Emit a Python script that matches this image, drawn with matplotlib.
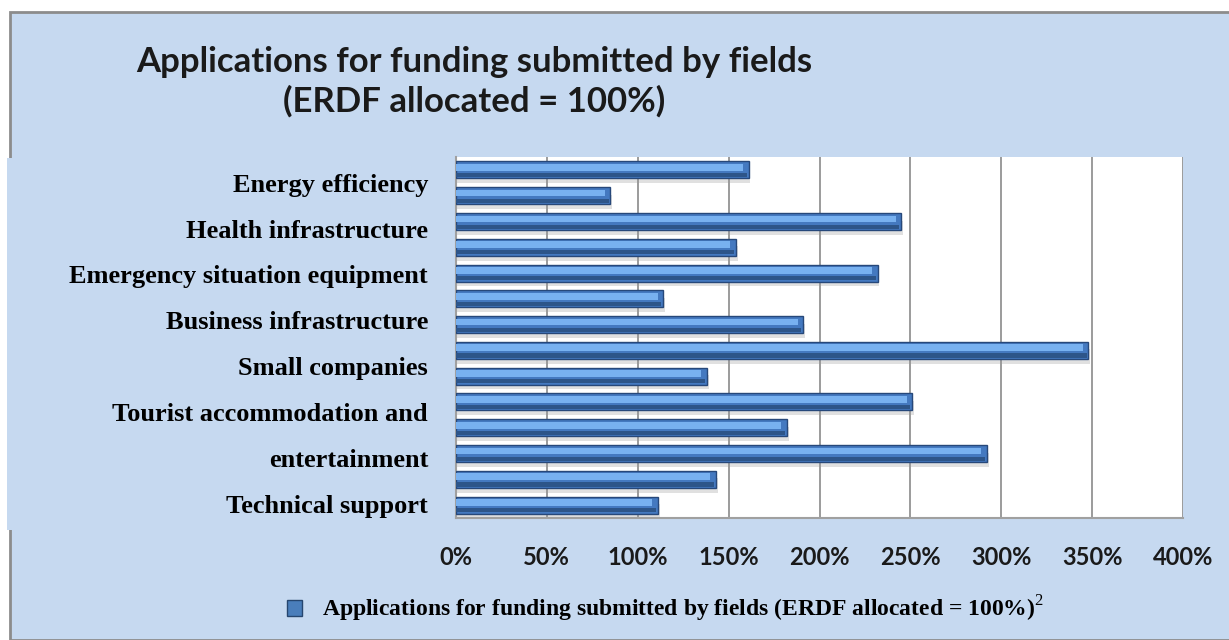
import matplotlib.pyplot as plt
import numpy as np
from matplotlib.patches import Rectangle
from matplotlib.ticker import FuncFormatter

# values, top bar first (percent of ERDF allocated)
values = [161, 85, 245, 154, 232, 114, 191, 348, 138, 251, 182, 292, 143, 111]
labels = ["Energy efficiency", "Health infrastructure", "Emergency situation equipment",
          "Business infrastructure", "Small companies", "Tourist accommodation and",
          "entertainment", "Technical support"]
ticks = [0, 50, 100, 150, 200, 250, 300, 350, 400]

title = "Applications for funding submitted by fields\n(ERDF allocated = 100%)"
series_name = r"Applications for funding submitted by fields (ERDF allocated = 100%)$^{\mathrm{2}}$"

plt.rcParams['mathtext.fontset'] = 'custom'
plt.rcParams['mathtext.bf'] = 'Liberation Serif:bold'
plt.rcParams['mathtext.rm'] = 'Liberation Serif'

bg = '#C6D9F0'
W, H = 1229, 640
fig = plt.figure(figsize=(W / 100, H / 100), dpi=100, facecolor='white')

# chart area background with grey frame
fig.patches.append(Rectangle((10 / W, 0), 1.2, 1 - 12 / H, transform=fig.transFigure,
                             facecolor=bg, edgecolor='#8c8c8c', linewidth=2, zorder=-2))
fig.patches.append(Rectangle((7 / W, 1 - 530 / H), 440 / W, 372 / H, transform=fig.transFigure,
                             facecolor=bg, edgecolor='none', zorder=-1))

ax = fig.add_axes([456 / W, 1 - 518 / H, 727 / W, 361 / H])
ax.set_facecolor('white')

y = np.arange(len(values))
v = np.array(values, dtype=float)
# shadow, body, highlight and dark lower band for the bevelled look
ax.barh(y + 0.24, v + 1, height=0.55, color='#9a9a9a', alpha=0.3, zorder=2)
ax.barh(y, v, height=0.66, color='#4479C0', edgecolor='#27487A', linewidth=1, zorder=3)
ax.barh(y - 0.1, v - 3, height=0.26, color='#78B1F0', zorder=4)
ax.barh(y + 0.2, v - 1, height=0.16, color='#2D5589', zorder=4)

ax.set_xlim(0, 400)
ax.set_ylim(len(values) - 0.5, -0.5)
ax.set_xticks(ticks)
ax.xaxis.set_major_formatter(FuncFormatter(lambda x, p: f"{x:.0f}%"))
ax.grid(axis='x', color='#8a8a8a', linewidth=1.2, zorder=0)
ax.set_axisbelow(True)
ax.set_yticks([])
ax.tick_params(axis='x', length=0, pad=20, labelsize=17)
for lab in ax.get_xticklabels():
    lab.set_fontfamily('Lato')
    lab.set_fontweight('bold')
    lab.set_color('#1a1a1a')
for s in ['top', 'right']:
    ax.spines[s].set_visible(False)
for s in ['left', 'bottom']:
    ax.spines[s].set_color('#a0a0a0')
    ax.spines[s].set_linewidth(1.5)

# category labels (overlaid, evenly spaced)
for lab, yy in zip(labels, np.linspace(0.922, 0.033, len(labels))):
    ax.text(-0.0385, yy, lab, transform=ax.transAxes, ha='right', va='center',
            fontsize=19, fontweight='bold', family='Liberation Serif', color='black')

fig.text(474 / W, 1 - 82 / H, title, ha='center', va='center', fontsize=25,
         fontweight='bold', family='Lato', color='#1a1a1a', linespacing=1.25)

# legend
handle = Rectangle((0, 0), 1, 1, facecolor='#4A7EBB', edgecolor='#26466F')
fig.legend([handle], [series_name], loc='center left', bbox_to_anchor=(287 / W, 1 - 609 / H),
           frameon=False, borderaxespad=0, borderpad=0,
           handlelength=0.65, handleheight=0.65, handletextpad=0.85,
           prop={'family': 'Liberation Serif', 'weight': 'bold', 'size': 17})

fig.savefig('out.png', dpi=100, facecolor='white')
